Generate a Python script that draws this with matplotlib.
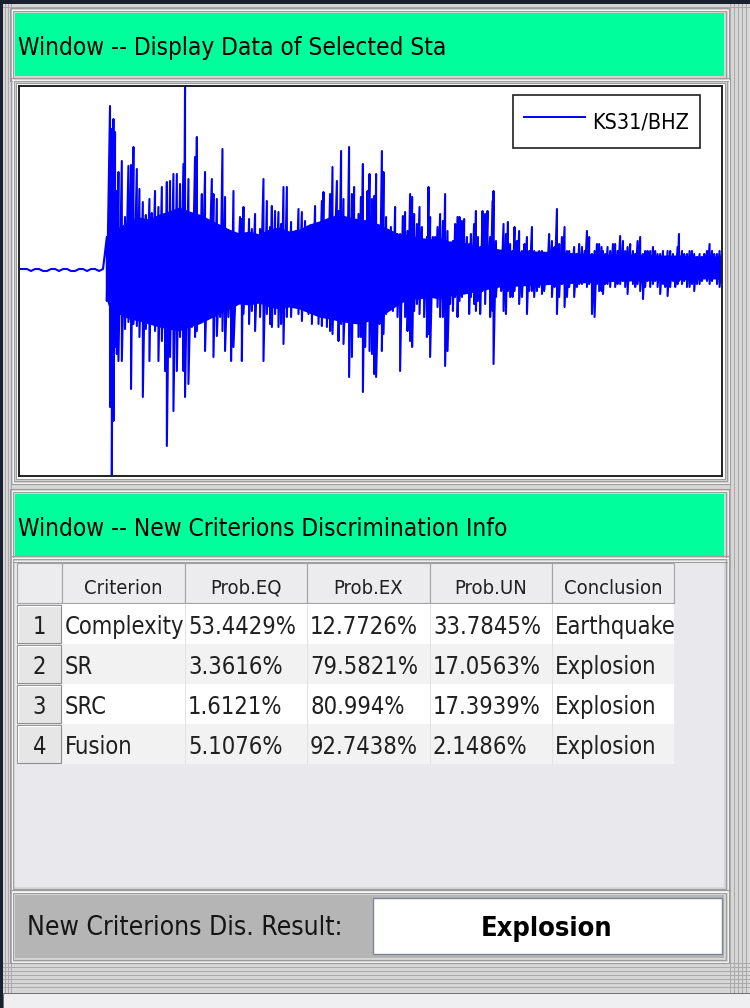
import numpy as np
import matplotlib
matplotlib.use("Agg")
import matplotlib.pyplot as plt
from matplotlib.patches import Rectangle
from matplotlib.lines import Line2D

station = "KS31/BHZ"

# quiet part before the first arrival, one value every 2 s (counts)
pre_amp = [0, 0, 0, -2, 0, 0, -2, -2, 0, 0, -2, 0, 0, -2, -2, 0, 0, -2, 0, 0, -2, 0]

# peak times (s) with the upward and downward swing at each one (counts)
pk_time = [
    43.9, 45.5, 46.4, 47.2, 48.0, 48.9, 49.7, 51.4, 53.0, 54.7,
    56.0, 57.2, 58.9, 60.2, 61.9, 63.4, 65.2, 66.4, 68.0, 69.7,
    71.4, 73.0, 73.9, 75.5, 77.2, 78.9, 80.5, 82.2, 83.0, 84.7,
    86.4, 88.0, 88.9, 90.5, 91.4, 93.0, 94.7, 96.4, 97.2, 98.9,
    100.5, 101.7, 103.0, 104.7, 106.0, 107.2, 108.9, 110.5, 111.4, 112.2,
    113.9, 115.0, 116.4, 118.0, 119.7, 120.5, 122.2, 123.9, 125.5, 126.4,
    128.0, 129.7, 131.0, 132.2, 133.9, 134.7, 136.0, 137.2, 138.4, 139.7,
    141.4, 143.0, 144.7, 146.4, 148.0, 149.7, 151.4, 152.2, 153.9, 155.5,
    156.7, 158.9, 159.7, 161.0, 162.2, 163.9, 165.0, 166.4, 167.5, 168.5,
    169.7, 170.9, 171.9, 173.0, 174.2, 175.2, 176.4, 177.5, 178.5, 180.2,
    181.4, 182.2, 183.5, 184.7, 185.9, 186.9, 188.0, 189.2, 190.5, 191.9,
    193.0, 194.2, 195.5, 196.5, 197.5, 198.9, 200.2, 201.4, 202.5, 203.9,
    204.7, 205.5, 206.9, 208.0, 209.2, 210.5, 211.9, 213.0, 214.2, 215.5,
    216.9, 218.0, 219.2, 220.2, 221.4, 222.5, 223.9, 225.0, 225.9, 227.5,
    228.4, 229.4, 230.5, 231.7, 233.0, 234.2, 235.5, 236.7, 237.2, 238.4,
    239.7, 241.0, 242.2, 243.4, 244.4, 245.5, 246.7, 247.7, 248.9, 250.0,
    251.4, 252.7, 253.9, 255.0, 256.4, 257.5, 258.9, 260.0, 261.4, 262.5,
    263.9, 265.0, 266.4, 267.7, 268.9, 270.0, 271.4, 272.7, 273.9, 275.0,
    276.4, 277.5, 278.9, 280.0, 281.4, 282.7, 283.9, 285.0, 286.4, 287.7,
    288.9, 290.0, 291.2, 291.9, 293.0, 294.2, 295.5, 296.9, 298.0, 299.2,
    300.5, 301.9, 303.0, 304.2, 305.5, 306.9, 308.0, 309.2, 310.5, 311.9,
    313.0, 314.2, 315.5, 316.9, 318.0, 319.2, 320.5, 321.9, 323.0, 324.2,
    325.5, 326.9, 328.0, 329.2, 329.9, 331.4, 332.5, 333.9, 335.2, 336.4,
    337.5, 338.9, 340.2, 341.4, 342.5, 343.9, 345.2, 346.4, 347.5, 348.9,
    350.2, 351.4,
]
pk_hi = [
    32, 163, 140, 150, 137, 78, 97, 108, 52, 103,
    104, 122, 100, 80, 67, 54, 70, 56, 78, 62,
    82, 45, 87, 88, 95, 95, 85, 105, 183, 90,
    40, 112, 132, 27, 75, 97, 45, 90, 75, 70,
    18, 120, 72, 25, 15, 78, 8, 52, 50, 62,
    32, 50, 40, 55, 32, 40, 90, 68, 42, 63,
    58, 57, 45, 82, 82, 18, 47, 32, 38, 60,
    57, 48, 35, 33, 63, 35, 68, 77, 48, 75,
    102, 88, 58, 118, 70, 20, 122, 75, 82, 48,
    55, 72, 105, 48, 78, 95, 70, 73, 95, 25,
    118, 97, 52, 35, 42, 25, 62, 35, 35, 53,
    57, 38, 75, 72, 55, 45, 62, 42, 28, 32,
    82, 52, 32, 32, 42, 55, 48, 75, 38, 18,
    28, 45, 52, 52, 48, 50, 32, 25, 35, 45,
    58, 32, 22, 58, 55, 58, 32, 68, 78, 28,
    12, 12, 45, 35, 47, 25, 18, 42, 28, 38,
    18, 25, 32, 18, 42, 18, 15, 18, 18, 15,
    5, 35, 28, 22, 60, 25, 32, 42, 18, 18,
    8, 22, 15, 25, 22, 18, 38, 32, 15, 18,
    25, 25, 22, 18, 15, 22, 18, 25, 25, 18,
    33, 28, 18, 22, 25, 18, 15, 28, 32, 15,
    18, 18, 18, 22, 18, 15, 15, 18, 12, 18,
    18, 15, 12, 22, 35, 18, 15, 15, 18, 18,
    15, 12, 15, 12, 15, 18, 25, 18, 15, 15,
    18, 15,
]
pk_lo = [
    -32, -138, -207, -152, -78, -85, -92, -92, -60, -53,
    -120, -55, -57, -68, -128, -60, -92, -45, -62, -92,
    -72, -102, -177, -88, -142, -102, -68, -102, -128, -115,
    -58, -68, -62, -32, -45, -82, -25, -45, -88, -67,
    -48, -62, -82, -48, -92, -78, -22, -32, -92, -45,
    -32, -55, -42, -62, -28, -48, -92, -45, -55, -58,
    -45, -58, -55, -75, -48, -32, -48, -18, -32, -45,
    -52, -35, -45, -55, -22, -55, -57, -45, -58, -62,
    -65, -45, -72, -55, -75, -42, -108, -88, -45, -35,
    -68, -68, -123, -78, -48, -82, -85, -105, -108, -55,
    -82, -65, -45, -28, -28, -42, -25, -48, -102, -18,
    -48, -62, -72, -78, -42, -35, -45, -28, -48, -68,
    -65, -88, -15, -28, -38, -48, -48, -97, -82, -35,
    -42, -28, -48, -32, -28, -22, -12, -45, -28, -35,
    -42, -32, -45, -22, -35, -18, -48, -42, -95, -28,
    -15, -22, -42, -45, -22, -28, -28, -22, -15, -35,
    -28, -8, -45, -22, -22, -28, -22, -18, -25, -22,
    -15, -12, -28, -18, -45, -28, -15, -38, -28, -18,
    -8, -28, -18, -15, -15, -12, -18, -15, -45, -48,
    -15, -22, -22, -25, -15, -15, -18, -12, -18, -15,
    -15, -12, -18, -25, -8, -15, -18, -15, -22, -30,
    -18, -12, -18, -15, -12, -18, -25, -15, -18, -27,
    -18, -12, -18, -15, -12, -15, -12, -18, -18, -15,
    -22, -15, -15, -12, -8, -12, -15, -12, -8, -15,
    -18, -12,
]

# edges of the dense, saturated part of the trace (s, counts)
core_time = [43.9, 46, 50, 55, 60, 65, 70, 75, 80, 85,
             90, 95, 100, 105, 110, 115, 120, 125, 130, 135,
             140, 145, 150, 155, 160, 165, 170, 175, 180, 185,
             190, 195, 200, 205, 210, 215, 220, 225, 230, 235,
             240, 250, 260, 270, 280, 290, 300, 310, 320, 330,
             340, 351.4]
core_hi = [30, 40, 42, 48, 52, 50, 55, 58, 62, 58,
           55, 50, 45, 40, 36, 38, 35, 40, 42, 38,
           40, 45, 48, 52, 55, 52, 50, 48, 45, 40,
           35, 34, 32, 30, 32, 28, 28, 25, 22, 22,
           20, 18, 18, 17, 16, 15, 15, 15, 14, 14,
           13, 13]
core_lo = [-32, -45, -45, -50, -52, -55, -58, -60, -62, -58,
           -55, -50, -45, -40, -35, -36, -34, -38, -40, -38,
           -40, -44, -48, -50, -52, -54, -55, -52, -48, -42,
           -35, -30, -30, -28, -30, -27, -26, -24, -22, -20,
           -18, -17, -16, -15, -14, -13, -12, -12, -11, -11,
           -10, -10]

# discrimination table
criteria = ["Complexity", "SR", "SRC", "Fusion"]
prob_eq = [53.4429, 3.3616, 1.6121, 5.1076]
prob_ex = [12.7726, 79.5821, 80.994, 92.7438]
prob_un = [33.7845, 17.0563, 17.3939, 2.1486]
conclusion = ["Earthquake", "Explosion", "Explosion", "Explosion"]
col_names = ["", "Criterion", "Prob.EQ", "Prob.EX", "Prob.UN", "Conclusion"]
final_result = "Explosion"

GREEN = "#00ff9c"
NARROW = ["Liberation Sans Narrow", "DejaVu Sans"]

fig = plt.figure(figsize=(7.5, 10.08), dpi=100, facecolor="#d6d6d6")
ui = fig.add_axes([0, 0, 1, 1])
ui.set_xlim(0, 750)
ui.set_ylim(1008, 0)
ui.axis("off")


def rect(x0, y0, x1, y1, fc="none", ec="none", lw=0.0, z=1):
    ui.add_patch(Rectangle((x0, y0), x1 - x0, y1 - y0, facecolor=fc,
                           edgecolor=ec, linewidth=lw, zorder=z))


def groove(x0, y0, x1, y1, n=3):
    # etched window border: alternating dark and light outlines
    for k in range(n):
        c = "#9c9c9c" if k % 2 == 0 else "#f4f4f4"
        rect(x0 - 1.5 * k, y0 - 1.5 * k, x1 + 1.5 * k, y1 + 1.5 * k,
             ec=c, lw=0.8, z=2)


def label(x, y, s, size, ha="left", weight="normal", color="black"):
    ui.text(x, y, s, fontsize=size, ha=ha, va="baseline", color=color,
            family=NARROW, fontstretch="condensed", fontweight=weight, zorder=6)


# outer window frame
rect(0, 0, 750, 4, fc="#1b2030", z=0.5)
rect(0, 0, 2.5, 1008, fc="#1b2030", z=0.5)
for xv in (5, 8, 11, 730, 734, 738, 742, 746):
    ui.plot([xv, xv], [4, 992], color="#a9a9a9", lw=0.7, zorder=0.6)
for yv in (6.5, 963, 967, 971, 975, 979, 983, 987):
    ui.plot([3, 750], [yv, yv], color="#a9a9a9", lw=0.7, zorder=0.6)
rect(2.5, 993, 750, 1008, fc="#efeff1", ec="#6f6f6f", lw=0.7, z=0.7)

# panel titles
for top, bottom, title in ((13, 76, "Window -- Display Data of Selected Sta"),
                           (494, 557, "Window -- New Criterions Discrimination Info")):
    rect(15, top, 724, bottom, fc=GREEN, z=1)
    groove(13, top - 2, 726, bottom + 2)
    label(18, bottom - 21, title, 17.5)

# waveform panel border
groove(14, 81, 727, 481)
rect(16, 83, 725, 479, fc="#ffffff", ec="#9c9c9c", lw=0.8, z=1)

# table panel
rect(15, 561, 724, 887, fc="#e9e9ed", z=1)
groove(13, 559, 726, 889)

col_x = [17, 62, 185, 307, 430, 552, 674]
head_top, head_bot = 563, 603
row_h = 40
for j, name in enumerate(col_names):
    rect(col_x[j], head_top, col_x[j + 1], head_bot, fc="#ececef", ec="#a3a3a3", lw=0.8, z=3)
    label((col_x[j] + col_x[j + 1]) / 2, head_bot - 9, name, 14.5, ha="center", color="#202020")

for i in range(len(criteria)):
    y0 = head_bot + 1 + i * row_h
    y1 = y0 + row_h
    shade = "#ffffff" if i % 2 == 0 else "#f2f2f2"
    rect(col_x[1], y0, col_x[-1], y1, fc=shade, z=3)
    for xv in col_x[2:-1]:
        ui.plot([xv, xv], [y0, y1], color="#e2e2e2", lw=0.7, zorder=4)
    # row number button
    rect(col_x[0], y0 + 1, col_x[1] - 1, y1 - 1, fc="#e6e6e6", ec="#8e8e8e", lw=0.8, z=4)
    ui.plot([col_x[0] + 1, col_x[0] + 1, col_x[1] - 2], [y1 - 2, y0 + 2, y0 + 2],
            color="#ffffff", lw=0.8, zorder=5)
    base = y0 + 30
    label((col_x[0] + col_x[1]) / 2, base, str(i + 1), 17, ha="center", color="#202020")
    cells = [criteria[i], f"{prob_eq[i]:g}%", f"{prob_ex[i]:g}%",
             f"{prob_un[i]:g}%", conclusion[i]]
    for j, s in enumerate(cells):
        label(col_x[j + 1] + 3, base, s, 17, color="#202020")

# result strip
rect(15, 895, 724, 958, fc="#b5b5b5", z=1)
groove(13, 893, 726, 960)
label(27, 935, "New Criterions Dis. Result:", 19, color="#151515")
rect(373, 898, 722, 954, fc="#ffffff", ec="#7d8596", lw=1.0, z=3)
label(547, 936, final_result, 19.5, ha="center", weight="bold")

# seismogram
ax = fig.add_axes([19 / 750, 1 - 476 / 1008, 703 / 750, 390 / 1008])
pre_t = np.arange(len(pre_amp)) * 2.0
t = np.concatenate([pre_t, np.repeat(pk_time, 2)])
y = np.concatenate([pre_amp, np.column_stack([pk_hi, pk_lo]).ravel()])
ax.fill_between(core_time, core_lo, core_hi, color="#0000ff", lw=0)
ax.plot(t, y, color="#0000ff", lw=1.5)
ax.set_xlim(t.min(), t.max())
ax.set_ylim(y.min(), y.max())
ax.set_xticks([])
ax.set_yticks([])
for sp in ax.spines.values():
    sp.set_color("#202020")
    sp.set_linewidth(1.4)

handle = Line2D([], [], color="#0000ff", lw=1.4)
leg = ax.legend([handle], [station], loc="upper right",
                bbox_to_anchor=(681 / 703, 1 - 9 / 390), borderaxespad=0,
                fancybox=False, framealpha=1, edgecolor="#202020",
                handlelength=2.85, handletextpad=0.33, borderpad=0.5,
                handleheight=1.9,
                prop={"family": NARROW, "stretch": "condensed", "size": 15.5})
leg.get_frame().set_linewidth(1.2)

fig.savefig("out.png", dpi=100, facecolor=fig.get_facecolor())
